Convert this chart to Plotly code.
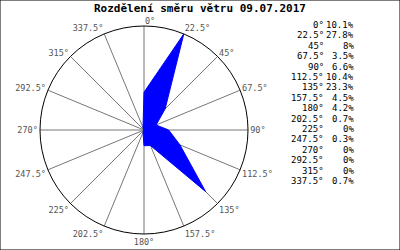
import plotly.graph_objects as go

directions = [0, 22.5, 45, 67.5, 90, 112.5, 135, 157.5, 180, 202.5, 225, 247.5, 270, 292.5, 315, 337.5]
dir_labels = ["0°", "22.5°", "45°", "67.5°", "90°", "112.5°", "135°", "157.5°", "180°", "202.5°", "225°", "247.5°", "270°", "292.5°", "315°", "337.5°"]
percent = [10.1, 27.8, 8, 3.5, 6.6, 10.4, 23.3, 4.5, 4.2, 0.7, 0, 0.3, 0, 0, 0, 0.7]
percent_labels = ["10.1%", "27.8%", "8%", "3.5%", "6.6%", "10.4%", "23.3%", "4.5%", "4.2%", "0.7%", "0%", "0.3%", "0%", "0%", "0%", "0.7%"]
title = "Rozdělení směru větru 09.07.2017"

mono = "DejaVu Sans Mono"

fig = go.Figure()
fig.add_trace(go.Scatterpolar(
    r=percent + [percent[0]], theta=directions + [directions[0]],
    mode="lines", fill="toself", fillcolor="#0000ff",
    line=dict(color="#0000ff", width=1), hoverinfo="skip", showlegend=False))

# the 0° label is drawn separately (it sits just right of the north spoke)
axis_text = [""] + dir_labels[1:]

fig.update_layout(
    width=400, height=250, margin=dict(l=0, r=0, t=0, b=0),
    paper_bgcolor="white", plot_bgcolor="white",
    showlegend=False,
    polar=dict(
        domain=dict(x=[0.1, 0.62], y=[0.064, 0.896]),
        bgcolor="white",
        radialaxis=dict(visible=False, range=[0, max(percent)], showgrid=False),
        angularaxis=dict(
            direction="clockwise", rotation=90,
            tickmode="array", tickvals=directions, ticktext=axis_text,
            tickfont=dict(family=mono, size=8.5, color="#555555"),
            showgrid=True, gridcolor="#777777", gridwidth=1,
            showline=True, linecolor="black", linewidth=1,
            ticks="",
        ),
    ),
)

fig.add_annotation(text=dir_labels[0], x=143 / 400, y=1 - 21 / 250, xref="paper", yref="paper",
                   showarrow=False, font=dict(family=mono, size=8.5, color="#555555"),
                   xanchor="left", yanchor="middle")

fig.add_annotation(text="<b>" + title + "</b>", x=0.5, y=1 - 8 / 250, xref="paper", yref="paper",
                   showarrow=False, font=dict(family=mono, size=11, color="black"),
                   xanchor="center", yanchor="middle")

y0 = 25
dy = 10.4
for i, (d, p) in enumerate(zip(dir_labels, percent_labels)):
    yy = 1 - (y0 + i * dy) / 250
    fig.add_annotation(text=d, x=326 / 400, y=yy, xref="paper", yref="paper", showarrow=False,
                       font=dict(family=mono, size=9, color="black"), xanchor="right", yanchor="middle")
    fig.add_annotation(text=p, x=356 / 400, y=yy, xref="paper", yref="paper", showarrow=False,
                       font=dict(family=mono, size=9, color="black"), xanchor="right", yanchor="middle")

fig.add_shape(type="rect", x0=0, y0=0, x1=1, y1=1, xref="paper", yref="paper",
              line=dict(color="black", width=1))

fig.write_html("out.html")
